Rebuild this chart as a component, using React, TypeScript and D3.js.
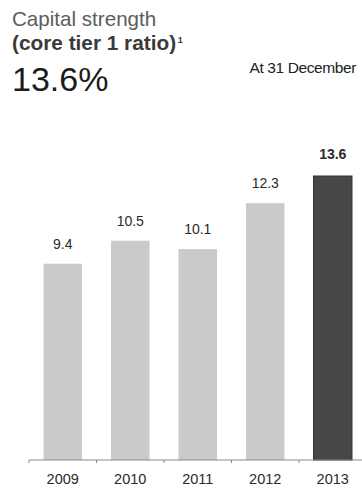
import React from "react";
import * as d3 from "d3";

const years = ["2009", "2010", "2011", "2012", "2013"];
const ratios = [9.4, 10.5, 10.1, 12.3, 13.6];
const valueLabels = ["9.4", "10.5", "10.1", "12.3", "13.6"];
const highlightYear = "2013";

const W = 362;
const H = 492;
const FONT = "'Liberation Sans', Arial, Helvetica, sans-serif";

export default function App() {
  const x = d3
    .scaleBand<string>()
    .domain(years)
    .range([29, 366.5])
    .paddingInner(0.43)
    .paddingOuter(0.215);
  const y = d3.scaleLinear().domain([0, 13.6]).range([460, 176]);
  const step = x.step();
  const gap = (step - x.bandwidth()) / 2;
  const baseY = y(0);

  return (
    <svg
      width={W}
      height={H}
      style={{ position: "absolute", left: 0, top: 0, display: "block", background: "#fff" }}
      fontFamily={FONT}
    >
      <text x={12} y={26} fontSize={20.6} fill="#5c5c5c">
        Capital strength
      </text>
      <text x={12} y={50} fontSize={20.8} fontWeight="bold" fill="#3a3a3a">
        (core tier 1 ratio)
        <tspan fontSize={9} dy={-7} dx={1.5}>1</tspan>
      </text>
      <text x={12} y={91} fontSize={34} fill="#1c1c1c">
        13.6%
      </text>
      <text x={356} y={73} fontSize={15.5} textAnchor="end" fill="#222" letterSpacing={-0.4}>
        At 31 December
      </text>

      {years.map((yr, i) => (
        <rect
          key={yr}
          x={x(yr)}
          y={y(ratios[i])}
          width={x.bandwidth()}
          height={baseY - y(ratios[i])}
          fill={yr === highlightYear ? "#474747" : "#cacaca"}
          stroke={yr === highlightYear ? "#333" : "none"}
          strokeWidth={1}
        />
      ))}

      {years.map((yr, i) => (
        <text
          key={"v" + yr}
          x={(x(yr) as number) + x.bandwidth() / 2}
          y={y(ratios[i]) - (yr === highlightYear ? 17 : 15)}
          fontSize={14}
          textAnchor="middle"
          fontWeight={yr === highlightYear ? "bold" : "normal"}
          fill="#2a2a2a"
        >
          {valueLabels[i]}
        </text>
      ))}

      <line x1={29} x2={W} y1={baseY} y2={baseY} stroke="#8a8a8a" strokeWidth={1} />
      {years.map((yr) => {
        const tx = (x(yr) as number) - gap;
        return <line key={"t" + yr} x1={tx} x2={tx} y1={baseY} y2={baseY + 3} stroke="#8a8a8a" />;
      })}

      {years.map((yr) => (
        <text
          key={"y" + yr}
          x={(x(yr) as number) + x.bandwidth() / 2}
          y={484}
          fontSize={14.5}
          textAnchor="middle"
          fill="#2a2a2a"
        >
          {yr}
        </text>
      ))}
    </svg>
  );
}
